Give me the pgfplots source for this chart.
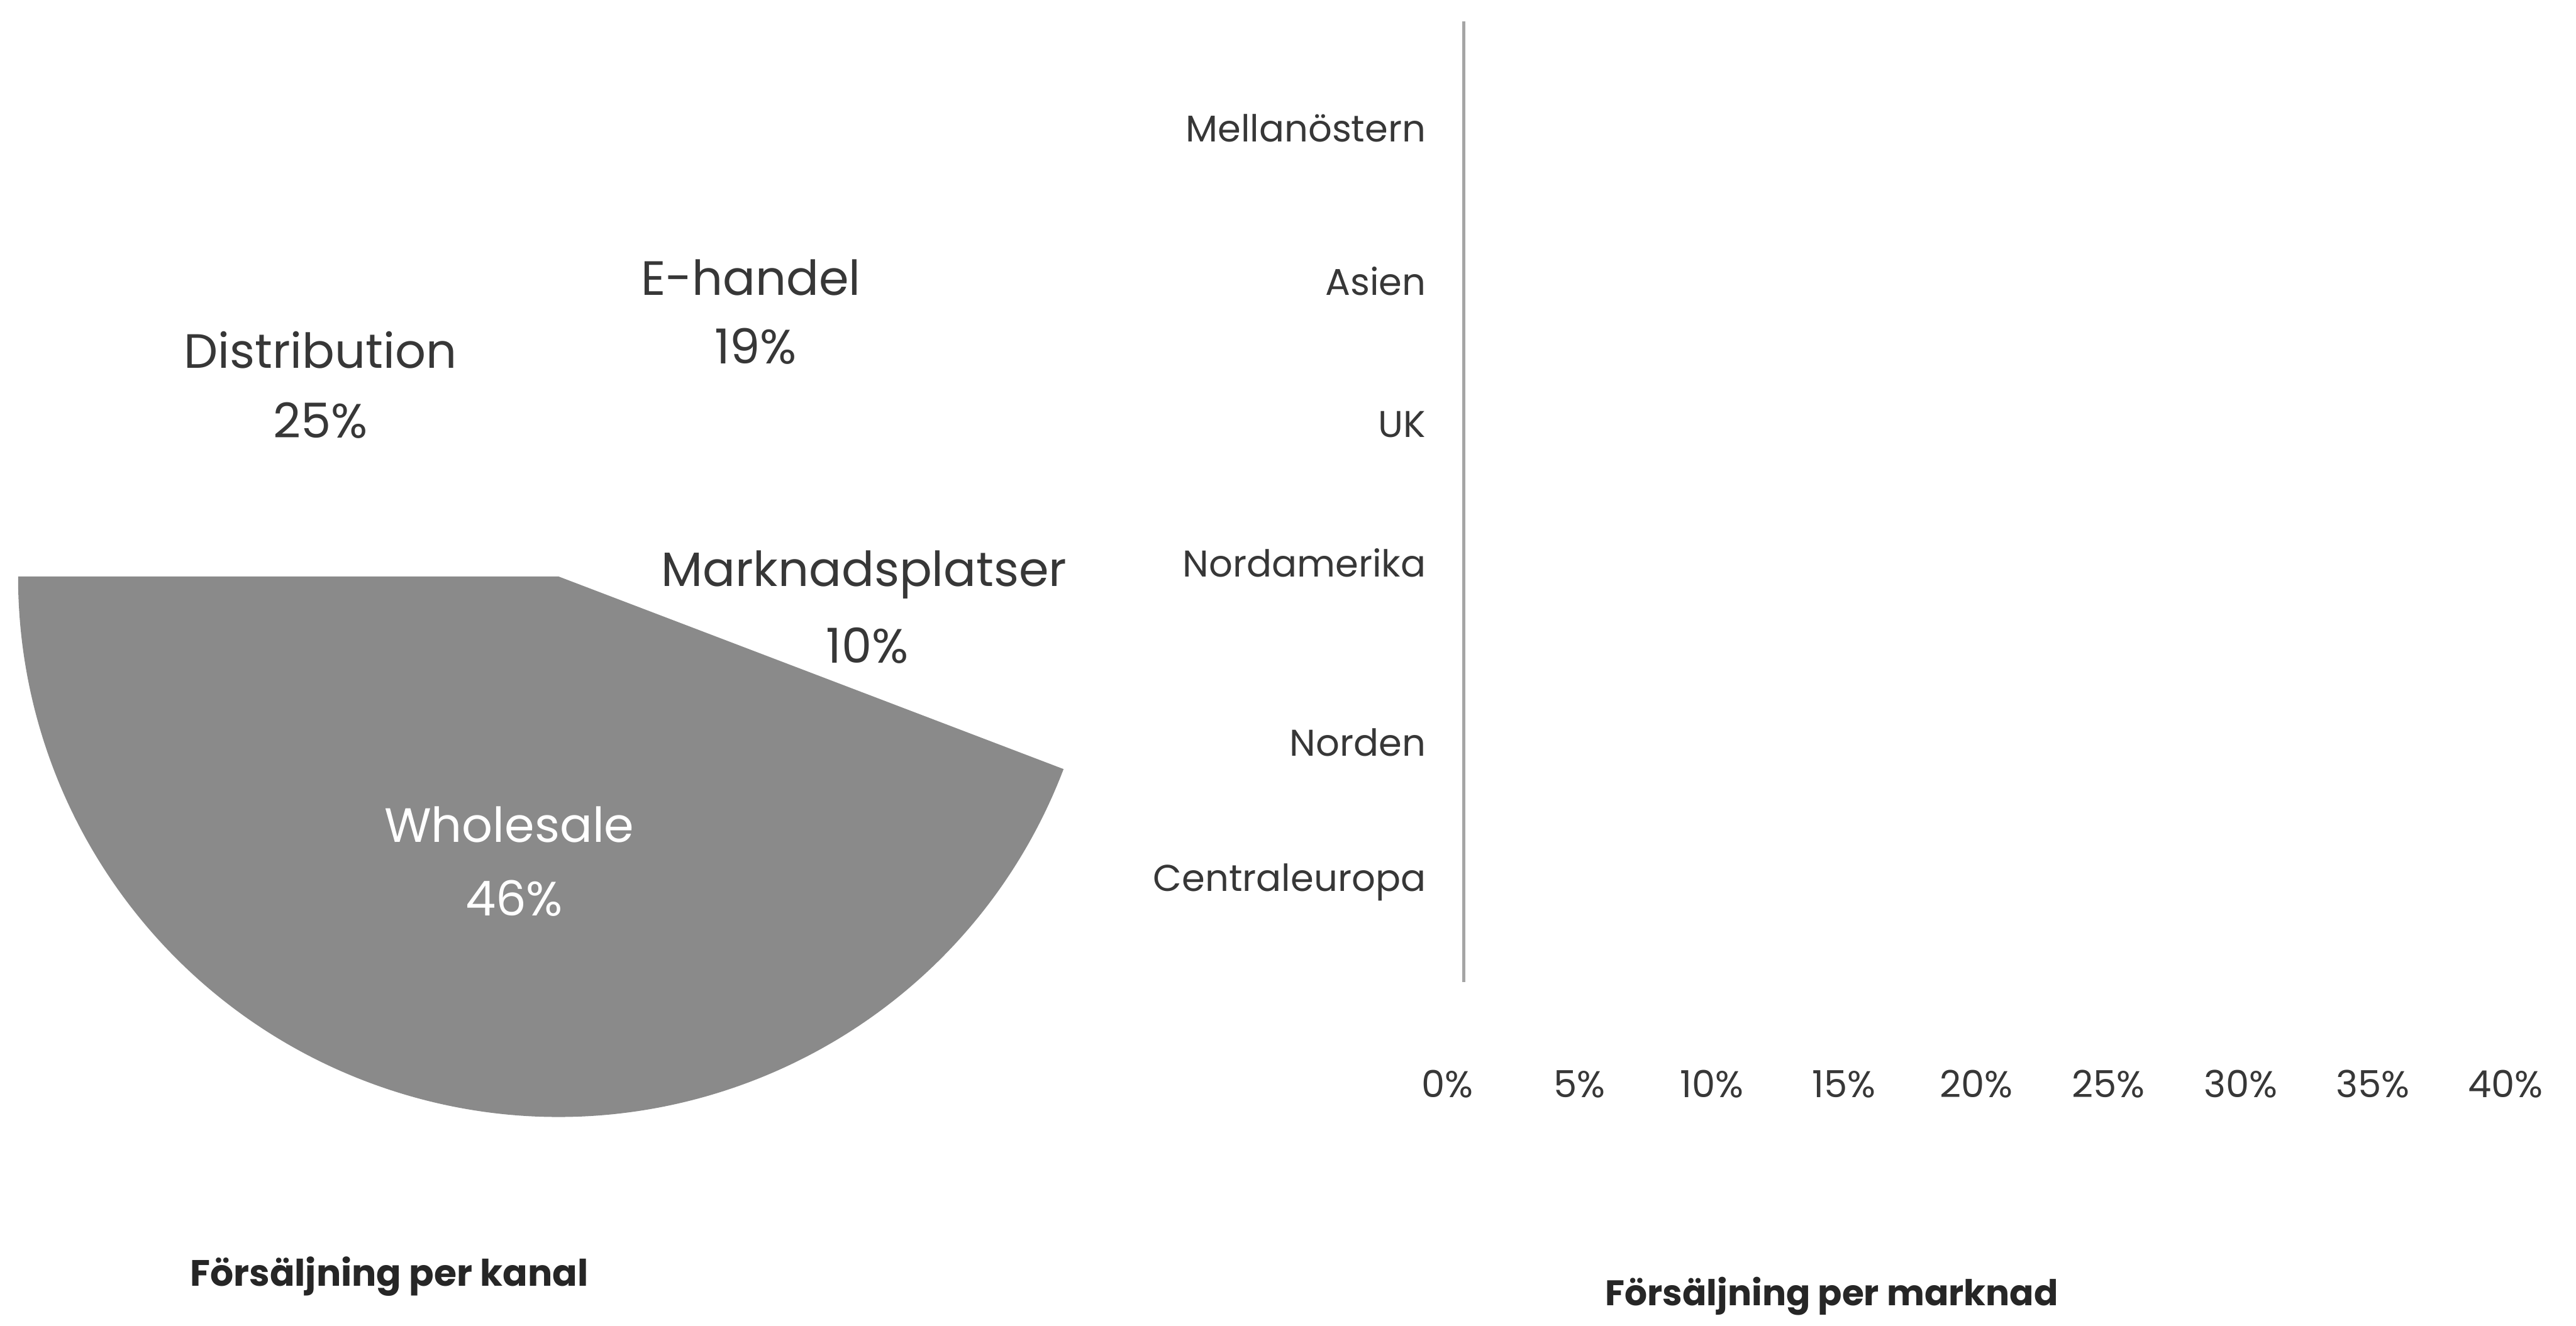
\documentclass[border=0pt]{standalone}
\usepackage{fontspec}
\setmainfont{Poppins}
\usepackage{pgfplots}
\usepackage{pgfplotstable}
\pgfplotsset{compat=1.18}
\definecolor{piegray}{RGB}{138,138,138}
\definecolor{axisgray}{RGB}{165,165,165}
\definecolor{txt}{RGB}{55,55,55}

% shares per channel as drawn (clockwise from 9 o'clock)
\pgfplotstableread{
channel share
Distribution 25.6
E-handel 19.8
Marknadsplatser 10.4
Wholesale 44.2
}\pietable

\pgfplotstablegetelem{0}{share}\of\pietable \edef\sA{\pgfplotsretval}
\pgfplotstablegetelem{1}{share}\of\pietable \edef\sB{\pgfplotsretval}
\pgfplotstablegetelem{2}{share}\of\pietable \edef\sC{\pgfplotsretval}
\pgfplotstablegetelem{3}{share}\of\pietable \edef\sD{\pgfplotsretval}

\begin{document}
\begin{tikzpicture}
\pgfmathsetmacro{\aA}{180-3.6*\sA}
\pgfmathsetmacro{\aB}{\aA-3.6*\sB}
\pgfmathsetmacro{\aC}{\aB-3.6*\sC}
\pgfmathsetmacro{\aD}{\aC-3.6*\sD}
\pgfmathsetmacro{\xC}{cos(\aC)}
\pgfmathsetmacro{\yC}{sin(\aC)}
\path[use as bounding box] (0pt,0pt) rectangle (470.4pt,242.1pt);

% ---------- pie ----------
\begin{axis}[at={(102pt,136.8pt)}, anchor=center, scale only axis,
  width=197.4pt, height=197.4pt, xmin=-1, xmax=1, ymin=-1, ymax=1,
  hide axis, clip=false]
\fill[piegray] (axis cs:0,0) -- (axis cs:\xC,\yC)
   arc[start angle=\aC, end angle=\aD, radius=98.7pt] -- cycle;
\end{axis}

\begin{scope}[every node/.style={font=\fontsize{8.8}{10}\selectfont, text=txt, inner sep=0pt}]
\node at (137.1pt,191.4pt) {E-handel};
\node at (138.0pt,178.8pt) {19\%};
\node at (58.5pt,178.2pt) {Distribution};
\node at (58.5pt,165.3pt) {25\%};
\node at (157.8pt,137.1pt) {Marknadsplatser};
\node at (158.4pt,124.2pt) {10\%};
\node[text=white] at (93.0pt,91.5pt) {Wholesale};
\node[text=white] at (93.9pt,78.0pt) {46\%};
\end{scope}

% ---------- bar axis ----------
\begin{axis}[at={(267.3pt,62.7pt)}, anchor=south west, scale only axis,
  width=193.2pt, height=175.5pt,
  xmin=0, xmax=0.4, ymin=0, ymax=6.65,
  axis lines*=left,
  x axis line style={draw=none},
  y axis line style={draw=axisgray, line width=0.5pt},
  tick style={draw=none}, major tick length=0pt,
  xtick={0,0.05,0.1,0.15,0.2,0.25,0.3,0.35,0.4},
  xticklabels={0\%,5\%,10\%,15\%,20\%,25\%,30\%,35\%,40\%},
  ytick={0.69,1.66,2.90,3.86,4.85,5.91},
  yticklabels={Centraleuropa,Norden,Nordamerika,UK,Asien,Mellanöstern},
  ticklabel style={font=\fontsize{6.8}{8}\selectfont, text=txt},
  xticklabel style={anchor=center, yshift=-18.6pt, xshift=-3pt},
  yticklabel style={anchor=east, xshift=-3.4pt},
]
\end{axis}

% ---------- titles ----------
\node[font=\fontsize{6.7}{8}\selectfont\bfseries, text=black!85] at (71.1pt,8.9pt) {Försäljning per kanal};
\node[font=\fontsize{6.5}{8}\selectfont\bfseries, text=black!85] at (334.5pt,5.3pt) {Försäljning per marknad};
\end{tikzpicture}
\end{document}
